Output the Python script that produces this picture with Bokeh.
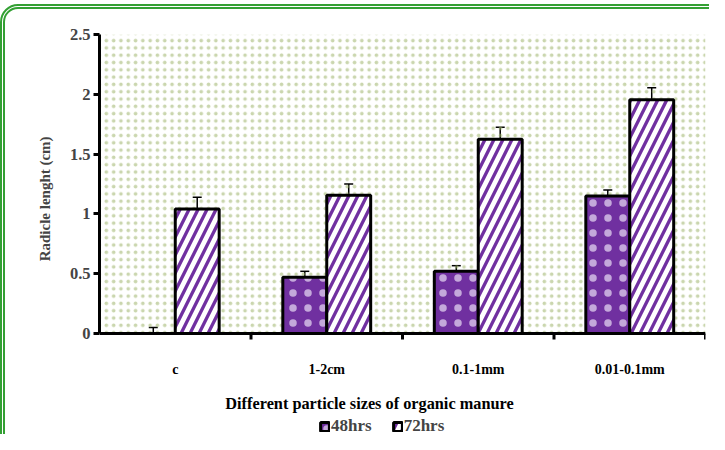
from bokeh.plotting import figure
from bokeh.models import (ColumnDataSource, Whisker, TeeHead, FixedTicker, Legend,
                          LegendItem, Range1d, Span, InlineStyleSheet)
from bokeh.core.properties import value
from bokeh.embed import file_html
from bokeh.resources import INLINE

categories = ["c", "1-2cm", "0.1-1mm", "0.01-0.1mm"]
series = ["48hrs", "72hrs"]
vals_48 = [0.0, 0.47, 0.52, 1.15]
vals_72 = [1.04, 1.155, 1.625, 1.955]
err_48 = [0.05, 0.05, 0.047, 0.05]
err_72 = [0.10, 0.095, 0.10, 0.10]
yticks = [0, 0.5, 1, 1.5, 2, 2.5]
ytick_labels = ["0", "0.5", "1", "1.5", "2", "2.5"]
x_title = "Different particle sizes of organic manure"
y_title = "Radicle lenght  (cm)"

PURPLE = "#7030A0"
FONT = "Liberation Serif"
BW = 0.29
YMAX = 2.5
PX_PER_UNIT = 299 / YMAX          # plot height of the value axis in pixels
BELOW_PX = 101                    # room under the zero line for labels and legend

css = """
:host { overflow: hidden; }
:host::after { content: ""; position: absolute; left: 0px; top: 4px; width: 900px; height: 700px;
  box-sizing: border-box; border: 5px double #33a033; border-radius: 18px; pointer-events: none; }
"""

p = figure(width=709, height=434, output_backend="svg", toolbar_location=None,
           x_range=Range1d(0, len(categories)),
           y_range=Range1d(-BELOW_PX / PX_PER_UNIT, YMAX),
           x_axis_location=None,
           min_border_left=99, min_border_right=4, min_border_top=34, min_border_bottom=0,
           stylesheets=[InlineStyleSheet(css=css)])
p.outline_line_color = None
p.grid.visible = False
p.background_fill_color = "white"
p.border_fill_color = "white"

# dotted background of the plot area
p.quad(left=[0], right=[len(categories)], bottom=[0], top=[YMAX], fill_color=None,
       line_color=None, hatch_pattern=".", hatch_color="#9fb46c", hatch_alpha=0.55,
       hatch_scale=7.3, hatch_weight=0.5)

centers = [i + 0.5 for i in range(len(categories))]
src = ColumnDataSource(dict(
    x48=[c - BW / 2 for c in centers], x72=[c + BW / 2 for c in centers],
    v48=vals_48, v72=vals_72,
    lo48=[max(0, v - e) for v, e in zip(vals_48, err_48)], hi48=[v + e for v, e in zip(vals_48, err_48)],
    lo72=[max(0, v - e) for v, e in zip(vals_72, err_72)], hi72=[v + e for v, e in zip(vals_72, err_72)],
))

r48 = p.vbar(x="x48", top="v48", bottom=0, width=BW, source=src, fill_color=PURPLE,
             line_color="black", line_width=3, hatch_pattern=".", hatch_color="#e8dcf4",
             hatch_alpha=0.7, hatch_scale=15, hatch_weight=0.5)
r72 = p.vbar(x="x72", top="v72", bottom=0, width=BW, source=src, fill_color="white",
             line_color="black", line_width=3, hatch_pattern="/", hatch_color=PURPLE,
             hatch_scale=18, hatch_weight=3.3)

for b in ("48", "72"):
    w = Whisker(base="x" + b, lower="lo" + b, upper="hi" + b, source=src,
                line_color="black", line_width=1.5,
                upper_head=TeeHead(size=9, line_color="black", line_width=1.5),
                lower_head=TeeHead(size=9, line_color="black", line_width=1.5))
    p.add_layout(w)

# category axis: zero line, boundary ticks, labels
p.add_layout(Span(location=0, dimension="width", line_color="black", line_width=3))
bounds = list(range(1, len(categories) + 1))
p.segment(x0=bounds, y0=[0] * len(bounds), x1=bounds, y1=[-6 / PX_PER_UNIT] * len(bounds),
          line_color="black", line_width=3)
p.text(x=centers, y=[0] * len(centers), text=categories, y_offset=36,
       text_align="center", text_baseline="middle", text_font=value(FONT),
       text_font_style="bold", text_font_size=value("14px"), text_color="black")
p.text(x=[len(categories) / 2], y=[0], text=[x_title], x_offset=-33, y_offset=70,
       text_align="center", text_baseline="middle", text_font=value(FONT),
       text_font_style="bold", text_font_size=value("16.3px"), text_color="black")

# value axis
ya = p.yaxis[0]
ya.bounds = (0, YMAX)
ya.ticker = FixedTicker(ticks=yticks, minor_ticks=[])
ya.major_label_overrides = {t: lab for t, lab in zip(yticks, ytick_labels)}
ya.major_tick_in = 0
ya.major_tick_out = 6
ya.major_tick_line_width = 3
ya.axis_line_width = 3
ya.major_label_standoff = 3
ya.major_label_text_font = FONT
ya.major_label_text_font_style = "bold"
ya.major_label_text_font_size = "16.5px"
# leading em spaces lift the label to the middle of the 0-2.5 span
ya.axis_label = "\u2003" * 5 + y_title
ya.axis_label_text_font = FONT
ya.axis_label_text_font_style = "bold"
ya.axis_label_text_font_size = "15px"
ya.axis_label_standoff = 14

legend = Legend(items=[LegendItem(label=series[0], renderers=[r48]),
                       LegendItem(label=series[1], renderers=[r72])],
                orientation="horizontal", location=(220, -2),
                label_text_font=FONT, label_text_font_style="bold",
                label_text_font_size="17px", glyph_width=11, glyph_height=11,
                label_height=18, spacing=20, label_standoff=1, padding=0, margin=0,
                border_line_color=None, background_fill_alpha=0)
p.add_layout(legend, "center")

open("out.html", "w").write(file_html(p, INLINE))
